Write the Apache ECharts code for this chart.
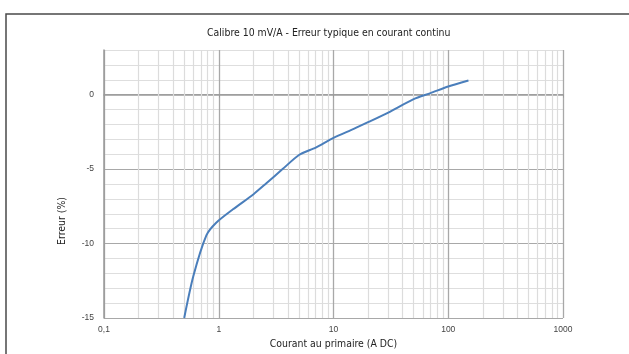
<!DOCTYPE html>
<html>
<head>
<meta charset="utf-8">
<script src="https://cdn.jsdelivr.net/npm/echarts@6/dist/echarts.min.js"></script>
<style>
html,body{margin:0;padding:0;background:#fff;}
#chart{width:629px;height:354px;}
</style>
</head>
<body>
<div id="chart"></div>
<script>
// Data
const currentA = [0.5, 0.6, 0.78, 0.95, 1.33, 2, 2.6, 3.6, 5, 7, 10, 15, 20, 30, 50, 70, 100, 150];
const errorPct = [-15, -12.2, -9.45, -8.6, -7.7, -6.7, -5.95, -5.0, -4.05, -3.55, -2.9, -2.3, -1.85, -1.2, -0.3, 0.1, 0.55, 0.95];
const decades = [0.1, 1, 10, 100];
const minorMultipliers = [2, 3, 4, 5, 6, 7, 8, 9];
const yLabelStep = 5;
const titleText = 'Calibre 10 mV/A - Erreur typique en courant continu';
const xName = 'Courant au primaire (A DC)';
const yName = 'Erreur (%)';

const narrow = "'Liberation Sans Narrow', 'DejaVu Sans Condensed', sans-serif";
const minorX = [];
decades.forEach(d => minorMultipliers.forEach(m => minorX.push({ xAxis: +(d * m).toPrecision(6) })));

const chart = echarts.init(document.getElementById('chart'), null, { renderer: 'canvas' });
chart.setOption({
  animation: false,
  backgroundColor: '#fff',
  graphic: [{
    type: 'rect', silent: true,
    shape: { x: 6, y: 14, width: 700, height: 400 },
    style: { fill: 'none', stroke: '#4a4a4a', lineWidth: 1.5 }
  }],
  title: {
    text: titleText, left: 202, top: 23,
    textStyle: { fontFamily: narrow, fontSize: 10.4, fontWeight: 'normal', color: '#222' }
  },
  grid: { left: 104, right: 66, top: 50, bottom: 35 },
  xAxis: {
    type: 'log', logBase: 10, min: 0.1, max: 1000,
    name: xName, nameLocation: 'middle', nameGap: 21,
    nameTextStyle: { fontFamily: narrow, fontSize: 10.4, color: '#222' },
    axisLine: { show: true, lineStyle: { color: '#9a9a9a', width: 1.5 } },
    axisTick: { show: true, length: 3, lineStyle: { color: '#9a9a9a' } },
    axisLabel: {
      fontFamily: 'Liberation Sans', fontSize: 8.5, color: '#444', margin: 7,
      formatter: v => String(v).replace('.', ',')
    },
    splitLine: { show: true, lineStyle: { color: '#a8a8a8', width: 1.3 } },
    minorTick: { show: false }, minorSplitLine: { show: false }
  },
  yAxis: {
    type: 'value', min: -15, max: 3, interval: 1,
    name: yName, nameLocation: 'middle', nameGap: 37, nameRotate: 90,
    nameTextStyle: { fontFamily: narrow, fontSize: 10.4, color: '#222', padding: [0, 74, 0, 0] },
    axisLine: { show: true, lineStyle: { color: '#9a9a9a', width: 1.5 } },
    axisTick: { show: false },
    axisLabel: {
      fontFamily: 'Liberation Sans', fontSize: 8.5, color: '#444', margin: 10,
      formatter: v => (v % yLabelStep === 0 ? String(v) : '')
    },
    splitLine: { show: true, lineStyle: { color: ['#a8a8a8', '#dedede', '#dedede', '#dedede', '#dedede'], width: 1.2 } }
  },
  series: [
    {
      type: 'line', data: [], z: 1, silent: true,
      markLine: {
        silent: true, symbol: 'none', label: { show: false }, animation: false, z: 1,
        lineStyle: { color: '#dcdcdc', width: 1.2, type: 'solid' },
        data: minorX
      }
    },
    {
      type: 'line', z: 4,
      data: currentA.map((x, i) => [x, errorPct[i]]),
      showSymbol: false, smooth: 0.25,
      lineStyle: { color: '#4a7ebb', width: 2 },
      itemStyle: { color: '#4a7ebb' }
    }
  ]
});
</script>
</body>
</html>
